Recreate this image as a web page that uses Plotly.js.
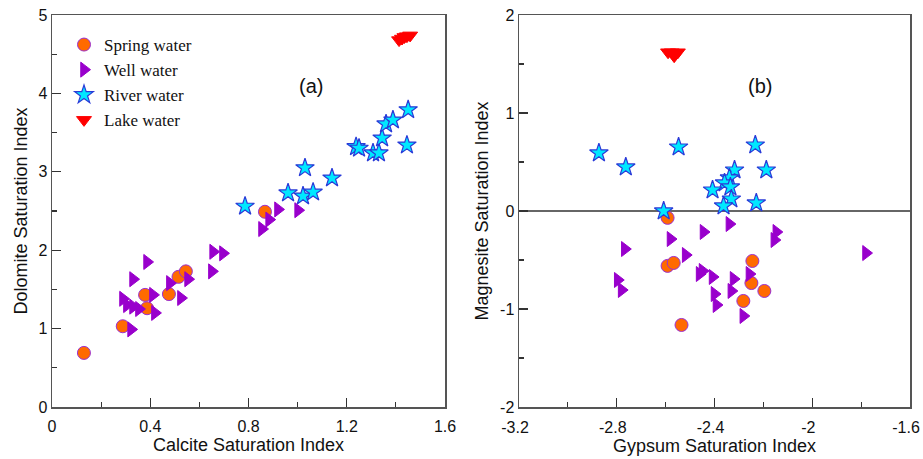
<!DOCTYPE html>
<html>
<head>
<meta charset="utf-8">
<script src="https://cdn.plot.ly/plotly-3.0.1.min.js"></script>
<style>html,body{margin:0;padding:0;background:#fff;}#chart{width:923px;height:459px;}</style>
</head>
<body>
<div id="chart"></div>
<script>
// Panel (a): Calcite SI vs Dolomite SI
const springCalcite = [0.13, 0.288, 0.379, 0.387, 0.476, 0.515, 0.545, 0.867];
const springDolomite = [0.69, 1.03, 1.43, 1.26, 1.44, 1.66, 1.73, 2.49];
const wellCalcite = [0.387, 0.330, 0.656, 0.696, 0.651, 0.480, 0.554, 0.411, 0.525, 0.289, 0.305, 0.330, 0.354, 0.419, 0.322, 0.920, 1.002, 0.884, 0.855];
const wellDolomite = [1.85, 1.63, 1.98, 1.96, 1.73, 1.58, 1.63, 1.43, 1.39, 1.38, 1.30, 1.28, 1.25, 1.20, 0.99, 2.52, 2.51, 2.39, 2.27];
const riverCalcite = [0.786, 0.961, 1.022, 1.063, 1.030, 1.140, 1.238, 1.250, 1.307, 1.331, 1.344, 1.360, 1.388, 1.450, 1.445];
const riverDolomite = [2.56, 2.73, 2.69, 2.74, 3.05, 2.92, 3.32, 3.30, 3.24, 3.24, 3.43, 3.61, 3.66, 3.79, 3.34];
const lakeCalcite = [1.413, 1.425, 1.435, 1.445, 1.458];
const lakeDolomite = [4.68, 4.70, 4.72, 4.73, 4.74];

// Panel (b): Gypsum SI vs Magnesite SI
const springGypsum = [-2.592, -2.592, -2.567, -2.245, -2.249, -2.196, -2.282, -2.535];
const springMagnesite = [-0.07, -0.56, -0.53, -0.51, -0.735, -0.816, -0.918, -1.163];
const wellGypsum = [-2.767, -2.580, -2.445, -2.339, -2.147, -2.155, -2.518, -2.796, -2.780, -2.461, -2.449, -2.408, -2.322, -2.331, -2.257, -2.400, -2.392, -2.282, -1.780];
const wellMagnesite = [-0.388, -0.286, -0.214, -0.133, -0.214, -0.296, -0.449, -0.704, -0.806, -0.643, -0.612, -0.673, -0.694, -0.816, -0.643, -0.847, -0.959, -1.071, -0.429];
const riverGypsum = [-2.873, -2.763, -2.547, -2.233, -2.318, -2.188, -2.339, -2.359, -2.335, -2.408, -2.331, -2.363, -2.229, -2.608];
const riverMagnesite = [0.592, 0.449, 0.653, 0.673, 0.418, 0.418, 0.337, 0.286, 0.245, 0.214, 0.122, 0.051, 0.082, 0.0];
const lakeGypsum = [-2.59, -2.575, -2.565, -2.55];
const lakeMagnesite = [1.62, 1.62, 1.58, 1.62];

// Tick labels (hyphen minus as in the original)
const gypsumTickVals = [-3.2, -2.8, -2.4, -2.0, -1.6];
const gypsumTickText = ['-3.2', '-2.8', '-2.4', '-2', '-1.6'];
const magnesiteTickVals = [-2, -1, 0, 1, 2];
const magnesiteTickText = ['-2', '-1', '0', '1', '2'];

const names = ['Spring water', 'Well water', 'River water', 'Lake water'];

const styles = [
  {symbol: 'circle', size: 13, color: '#ff6a00', line: {color: '#9b30d0', width: 1}},
  {symbol: 'triangle-right', size: 13, color: '#9900cc', line: {color: '#9900cc', width: 1}},
  {symbol: 'star', size: 14, color: '#00e8ff', line: {color: '#2a3ad8', width: 1.2}},
  {symbol: 'triangle-down', size: 13, color: '#ff0000', line: {color: '#ff0000', width: 1}}
];

const left = [[springCalcite, springDolomite], [wellCalcite, wellDolomite], [riverCalcite, riverDolomite], [lakeCalcite, lakeDolomite]];
const right = [[springGypsum, springMagnesite], [wellGypsum, wellMagnesite], [riverGypsum, riverMagnesite], [lakeGypsum, lakeMagnesite]];

const traces = [];
left.forEach((d, i) => traces.push({x: d[0], y: d[1], type: 'scatter', mode: 'markers', name: names[i], marker: styles[i], xaxis: 'x', yaxis: 'y', showlegend: true}));
right.forEach((d, i) => traces.push({x: d[0], y: d[1], type: 'scatter', mode: 'markers', name: names[i], marker: styles[i], xaxis: 'x2', yaxis: 'y2', showlegend: false}));

const sans = '"Liberation Sans", Arial, sans-serif';
const tickFont = {family: sans, size: 16, color: '#111'};
const titleFont = {family: sans, size: 18, color: '#111'};

function minor(t0, dt) {
  return {tickmode: 'linear', tick0: t0, dtick: dt, ticks: 'inside', ticklen: 5, tickwidth: 1.2, tickcolor: '#333', showgrid: false};
}
function ax(extra) {
  return Object.assign({
    showgrid: false, zeroline: false, showline: true, linecolor: '#555', linewidth: 1.5, mirror: true,
    ticks: 'inside', ticklen: 9, tickwidth: 1.2, tickcolor: '#333', tickfont: tickFont, ticklabeloverflow: 'allow'
  }, extra);
}
const yd = [1 - 407 / 459, 1 - 15 / 459];

const layout = {
  width: 923, height: 459,
  margin: {l: 0, r: 0, t: 0, b: 0},
  paper_bgcolor: '#fff', plot_bgcolor: '#fff',
  showlegend: true,
  legend: {x: 64 / 923, y: 1 - 27 / 459, xanchor: 'left', yanchor: 'top', bgcolor: 'rgba(0,0,0,0)',
    font: {family: '"Liberation Serif", "Times New Roman", serif', size: 17, color: '#111'}, tracegroupgap: 0, itemwidth: 30},
  xaxis: ax({domain: [52 / 923, 445 / 923], range: [0, 1.6], dtick: 0.4, tick0: 0, minor: minor(0, 0.2), ticklabelstandoff: 4,
    title: {text: 'Calcite Saturation Index', font: titleFont, standoff: 0}, anchor: 'y'}),
  yaxis: ax({domain: yd, range: [0, 5], dtick: 1, tick0: 0, minor: minor(0, 0.5),
    title: {text: 'Dolomite Saturation Index', font: titleFont, standoff: 6}, anchor: 'x'}),
  xaxis2: ax({domain: [519 / 923, 910 / 923], range: [-3.2, -1.6], tickmode: 'array', tickvals: gypsumTickVals, ticktext: gypsumTickText,
    minor: minor(-3.2, 0.2), ticklabelstandoff: 5, ticklabelshift: -4,
    title: {text: 'Gypsum Saturation Index', font: titleFont, standoff: 0}, anchor: 'y2'}),
  yaxis2: ax({domain: yd, range: [-2, 2], tickmode: 'array', tickvals: magnesiteTickVals, ticktext: magnesiteTickText,
    zeroline: true, zerolinecolor: '#666', zerolinewidth: 1.2, minor: minor(-2, 0.5),
    title: {text: 'Magnesite Saturation Index', font: titleFont, standoff: 7}, anchor: 'x2'}),
  annotations: [
    {text: '(a)', xref: 'paper', yref: 'paper', x: 297 / 923, y: 1 - 73 / 459, showarrow: false, font: {family: sans, size: 20, color: '#111'}},
    {text: '(b)', xref: 'paper', yref: 'paper', x: 774 / 923, y: 1 - 73 / 459, showarrow: false, font: {family: sans, size: 20, color: '#111'}}
  ]
};

Plotly.newPlot('chart', traces, layout, {displayModeBar: false, staticPlot: true});
</script>
</body>
</html>
